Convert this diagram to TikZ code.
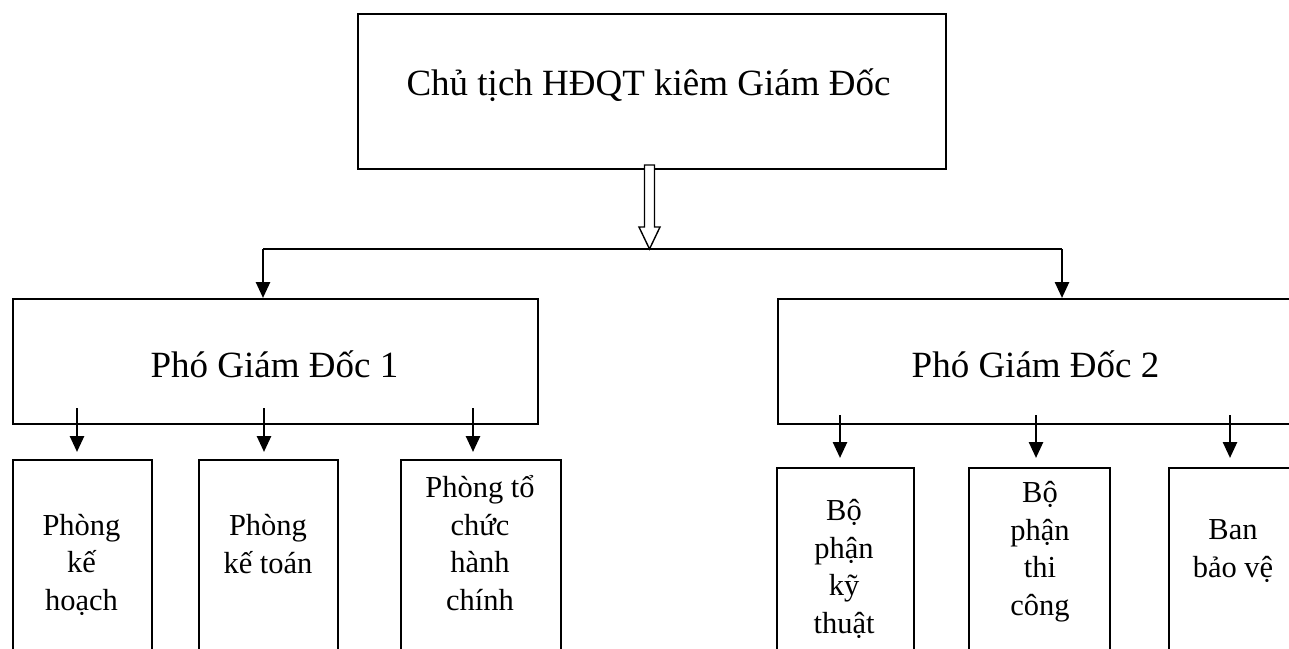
\documentclass[tikz,border=0pt]{standalone}
\usepackage{fontspec}
\setmainfont{Liberation Serif}
\usetikzlibrary{arrows.meta,calc}
\tikzset{
  box/.style={draw=black, line width=2pt, inner sep=0pt, anchor=north west},
  arr/.style={line width=2.6pt, -{Triangle[length=16pt,width=14pt]}},
  bus/.style={line width=2.2pt},
  big/.style={font=\fontsize{37}{43}\selectfont, inner sep=0pt, anchor=base},
  % multi-line labels: the base anchor sits on the last line
  small/.style={font=\fontsize{30.5}{37.5}\selectfont, inner sep=0pt, anchor=base, align=center},
  hollow/.style={draw=black, fill=white, line width=1.4pt, line join=miter},
}
\begin{document}
\begin{tikzpicture}[x=1pt,y=-1pt]
\path[use as bounding box] (0,0) rectangle (1289,648);
\clip (0,0) rectangle (1289,648);

% boxes
\node[box, minimum width=588pt, minimum height=155pt] (chu) at (357,13) {};
\node[box, minimum width=525pt, minimum height=125pt] (pgd1) at (12,298) {};
\node[box, minimum width=516pt, minimum height=125pt] (pgd2) at (777,298) {};

\node[box, minimum width=139pt, minimum height=260pt] (pk1) at (12,459) {};
\node[box, minimum width=139pt, minimum height=260pt] (pk2) at (198,459) {};
\node[box, minimum width=160pt, minimum height=260pt] (pk3) at (400,459) {};

\node[box, minimum width=137pt, minimum height=260pt] (bp1) at (776,467) {};
\node[box, minimum width=141pt, minimum height=260pt] (bp2) at (968,467) {};
\node[box, minimum width=130pt, minimum height=260pt] (bp3) at (1168,467) {};

% labels
\node[big] (chu-t) at (648.5,95) {Chủ tịch HĐQT kiêm Giám Đốc};
\node[big] (pgd1-t) at (274.5,377) {Phó Giám Đốc 1};
\node[big] (pgd2-t) at (1035.5,377) {Phó Giám Đốc 2};

\node[small] (pk1-t) at (81.5,610) {Phòng\\kế\\hoạch};
\node[small] (pk2-t) at (268,573) {Phòng\\kế toán};
\node[small] (pk3-t) at (480,610) {Phòng tổ\\chức\\hành\\chính};

\node[small] (bp1-t) at (844,633) {Bộ\\phận\\kỹ\\thuật};
\node[small] (bp2-t) at (1040,615) {Bộ\\phận\\thi\\công};
\node[small] (bp3-t) at (1233,577) {Ban\\bảo vệ};

% hollow arrow from the chairman to the bus line
\coordinate (hub) at (649.5,249);
\draw[hollow] ($(hub)+(-5,-84)$) -- ($(hub)+(5,-84)$) -- ($(hub)+(5,-22)$)
  -- ($(hub)+(10.5,-22)$) -- (hub) -- ($(hub)+(-10.5,-22)$)
  -- ($(hub)+(-5,-22)$) -- cycle;

% bus line down to the two deputies
\coordinate (busL) at (263,249);
\coordinate (busR) at (1062,249);
\draw[bus] (busL) -- (busR);
\draw[arr] (busL) -- (busL |- pgd1.north);
\draw[arr] (busR) -- (busR |- pgd2.north);

% deputy 1 to its departments
\coordinate (a1) at (77,408);
\coordinate (a2) at (264,408);
\coordinate (a3) at (473,408);
\draw[arr, shorten >=7pt] (a1) -- (a1 |- pk1.north);
\draw[arr, shorten >=7pt] (a2) -- (a2 |- pk2.north);
\draw[arr, shorten >=7pt] (a3) -- (a3 |- pk3.north);

% deputy 2 to its departments
\coordinate (b1) at (840,415);
\coordinate (b2) at (1036,415);
\coordinate (b3) at (1230,415);
\draw[arr, shorten >=9pt] (b1) -- (b1 |- bp1.north);
\draw[arr, shorten >=9pt] (b2) -- (b2 |- bp2.north);
\draw[arr, shorten >=9pt] (b3) -- (b3 |- bp3.north);
\end{tikzpicture}
\end{document}
